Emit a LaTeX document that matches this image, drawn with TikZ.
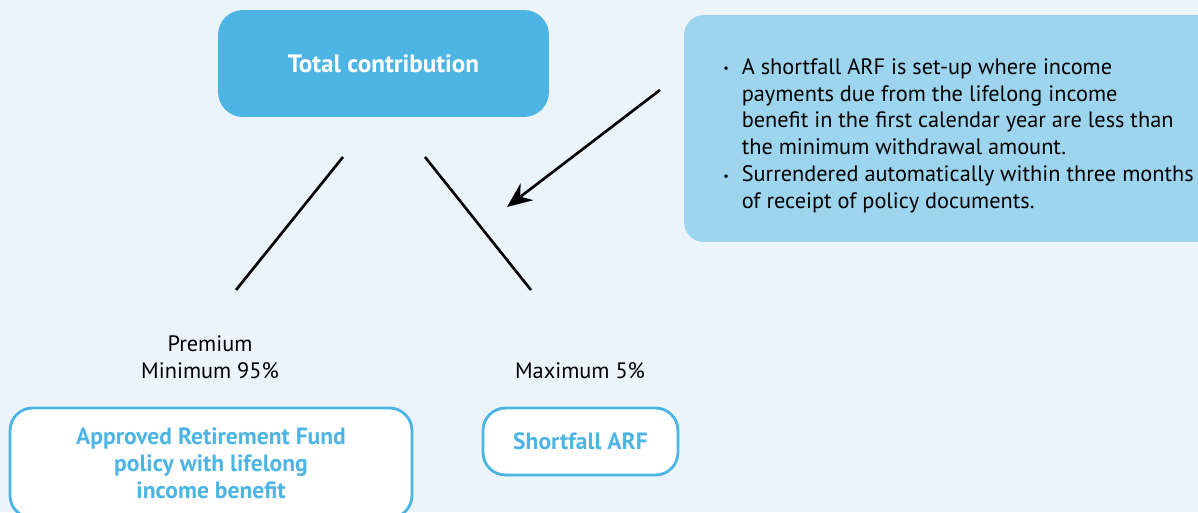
\documentclass[tikz,border=0pt]{standalone}
\usepackage{fontspec}
\setmainfont{PT Sans}
\usetikzlibrary{arrows.meta}

\definecolor{pagebg}{HTML}{EBF3FB}
\definecolor{darkbox}{HTML}{4DB5E3}
\definecolor{lightbox}{HTML}{9DD5EF}

\tikzset{
    topbox/.style    = {fill=darkbox, rounded corners=0.5cm, text=white,
                        font=\fontsize{14.3}{15.3}\selectfont\bfseries,
                        minimum width=6.62cm, minimum height=2.14cm},
    notebox/.style   = {fill=lightbox, rounded corners=0.4cm,
                        minimum width=11.12cm, minimum height=4.54cm},
    fundbox/.style   = {draw=darkbox, line width=1.6pt, fill=white, rounded corners=0.45cm,
                        text=darkbox, font=\fontsize{13.4}{15.3}\selectfont\bfseries, align=center},
    share/.style     = {align=center},
    split/.style     = {line width=1.5pt},
    pointer/.style   = {line width=1.5pt, -{Stealth[length=0.5cm, width=0.42cm]}}
}

\newcommand{\pt}{\makebox[10.5pt][l]{\raisebox{0.15ex}{\scriptsize\textbullet}}}

\begin{document}
\begin{tikzpicture}[x=0.02cm, y=-0.02cm, font=\fontsize{12.7}{15.3}\selectfont]

            %\draw [help lines] (0,0) grid (1198,512);

            \clip (0,0) rectangle (1198,512);
            \fill [pagebg] (0,0) rectangle (1198,512);

            \path   (383.5,63.5) node (total) [topbox] {Total contribution}
                    (962,128.5) node (notes) [notebox] {}
                    (723,58) node (facts) [anchor=north west, inner sep=0pt, align=left]
                        {\pt A shortfall ARF is set-up where income\\
                         \hspace{10.5pt}payments due from the lifelong income\\
                         \hspace{10.5pt}benefit in the first calendar year are less than\\
                         \hspace{10.5pt}the minimum withdrawal amount.\\
                         \pt Surrendered automatically within three months\\
                         \hspace{10.5pt}of receipt of policy documents.}
                    (210,357) node (premium) [share] {Premium\\Minimum 95\%}
                    (580,371) node (maximum) [share] {Maximum 5\%}
                    (211,463) node (arf) [fundbox, minimum width=8.04cm, minimum height=2.2cm]
                        {Approved Retirement Fund\\policy with lifelong\\income benefit}
                    (580.5,441.5) node (shortfall) [fundbox, minimum width=3.9cm, minimum height=1.34cm]
                        {Shortfall ARF};

            \coordinate (l1) at (343,157);
            \coordinate (l2) at (236,290);
            \coordinate (r1) at (425,157);
            \coordinate (r2) at (531,290);
            \coordinate (a1) at (660,90);
            \coordinate (a2) at (507,207);

            \draw [split] (l1) -- (l2);
            \draw [split] (r1) -- (r2);
            \draw [pointer] (a1) -- (a2);

\end{tikzpicture}
\end{document}
